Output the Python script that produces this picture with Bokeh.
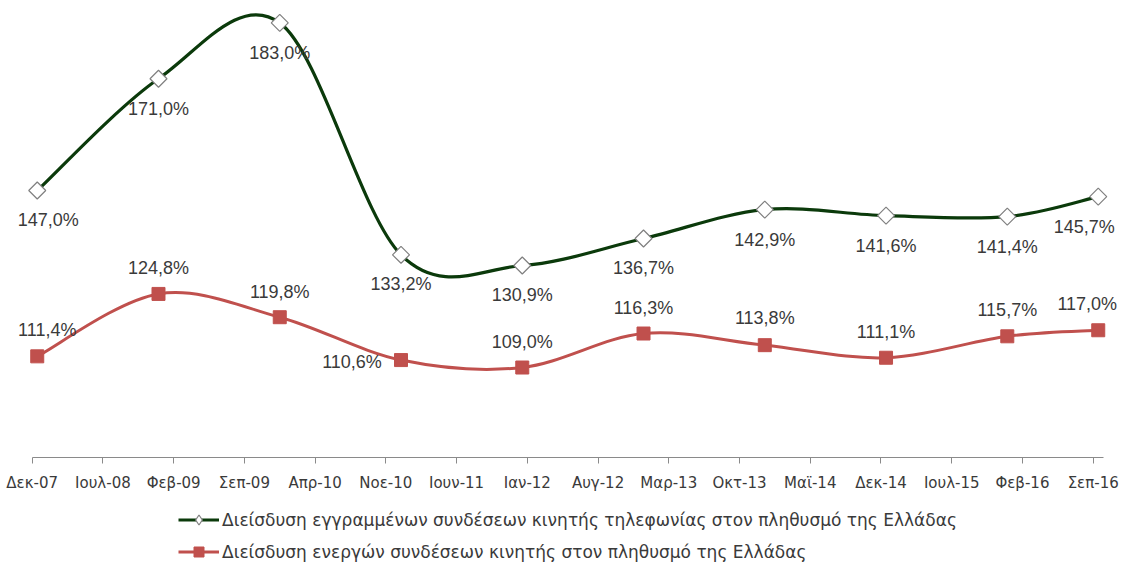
import numpy as np
from bokeh.plotting import figure
from bokeh.layouts import column
from bokeh.models import ColumnDataSource, LabelSet, Legend, LegendItem, FixedTicker, Range1d
from bokeh.embed import file_html
from bokeh.resources import INLINE
from bokeh.core.properties import value

# ---------------- data ----------------
dates = ["2007-12", "2008-12", "2009-12", "2010-12", "2011-12",
         "2012-12", "2013-12", "2014-12", "2015-12", "2016-09"]
registered = [147.0, 171.0, 183.0, 133.2, 130.9, 136.7, 142.9, 141.6, 141.4, 145.7]
active = [111.4, 124.8, 119.8, 110.6, 109.0, 116.3, 113.8, 111.1, 115.7, 117.0]
tick_labels = ["Δεκ-07", "Ιουλ-08", "Φεβ-09", "Σεπ-09", "Απρ-10", "Νοε-10", "Ιουν-11",
               "Ιαν-12", "Αυγ-12", "Μαρ-13", "Οκτ-13", "Μαϊ-14", "Δεκ-14", "Ιουλ-15",
               "Φεβ-16", "Σεπ-16"]
series_names = ["Διείσδυση εγγραμμένων συνδέσεων κινητής τηλεφωνίας στον πληθυσμό της Ελλάδας",
                "Διείσδυση ενεργών συνδέσεων κινητής στον πληθυσμό της Ελλάδας"]

# label placement (screen px offsets), kept apart from the data
reg_dx = [11, 0, 0, 0, 0, 0, 0, 0, 0, -14]
reg_dy = [-29, -30, -30, -29, -29, -29, -30, -30, -30, -30]
act_dx = [10, 0, 0, -49, 0, 0, 0, 0, 0, -11]
act_dy = [26, 26, 25, -2, 26, 26, 27, 26, 26, 26]

GREEN = "#0B3A0B"
RED = "#C0504D"
TXT = "#3A3A3A"

def month_index(s):
    y, m = s.split("-")
    return (int(y) - 2007) * 12 + int(m) - 12

xs = [month_index(d) + 0.5 for d in dates]
tick_pos = [7 * i for i in range(len(tick_labels))]
axis_end = tick_pos[-1] + 1

def smooth_segments(x, y):
    x = np.asarray(x, float)
    y = np.asarray(y, float)
    n = len(x)
    xp = np.concatenate([[x[0]], x, [x[-1]]])
    yp = np.concatenate([[y[0]], y, [y[-1]]])
    cx0 = x[:-1] + (xp[2:n + 1] - xp[0:n - 1]) / 6.0
    cy0 = y[:-1] + (yp[2:n + 1] - yp[0:n - 1]) / 6.0
    cx1 = x[1:] - (xp[3:n + 2] - xp[1:n]) / 6.0
    cy1 = y[1:] - (yp[3:n + 2] - yp[1:n]) / 6.0
    return dict(x0=x[:-1], y0=y[:-1], x1=x[1:], y1=y[1:],
                cx0=cx0, cy0=cy0, cx1=cx1, cy1=cy1)

def fmt(v):
    return f"{v:.1f}%".replace(".", ",")

p = figure(width=1127, height=500, output_backend="svg", toolbar_location=None,
           x_range=Range1d(-2.74, 108.0), y_range=Range1d(89.68, 187.8),
           y_axis_location=None, min_border_left=4, min_border_right=4,
           min_border_top=0, min_border_bottom=43)
p.outline_line_color = None
p.grid.visible = False
p.background_fill_color = "white"

ax = p.xaxis[0]
ax.bounds = (0, axis_end)
ax.ticker = FixedTicker(ticks=tick_pos)
ax.major_label_overrides = {t: l for t, l in zip(tick_pos, tick_labels)}
ax.axis_line_color = "#8A8A8A"
ax.major_tick_line_color = "#8A8A8A"
ax.major_tick_out = 6
ax.major_tick_in = 0
ax.minor_tick_line_color = None
ax.major_label_text_font = "DejaVu Sans"
ax.major_label_text_font_size = "15px"
ax.major_label_text_color = TXT
ax.major_label_standoff = 10

reg_seg = ColumnDataSource(smooth_segments(xs, registered))
act_seg = ColumnDataSource(smooth_segments(xs, active))
p.bezier(x0="x0", y0="y0", x1="x1", y1="y1", cx0="cx0", cy0="cy0", cx1="cx1", cy1="cy1",
         source=act_seg, line_color=RED, line_width=3, line_cap="round")
p.bezier(x0="x0", y0="y0", x1="x1", y1="y1", cx0="cx0", cy0="cy0", cx1="cx1", cy1="cy1",
         source=reg_seg, line_color=GREEN, line_width=3.2, line_cap="round")

reg_src = ColumnDataSource(dict(x=xs, y=registered, t=[fmt(v) for v in registered],
                                dx=reg_dx, dy=reg_dy))
act_src = ColumnDataSource(dict(x=xs, y=active, t=[fmt(v) for v in active],
                                dx=act_dx, dy=act_dy))

p.scatter("x", "y", source=act_src, marker="square", size=13,
          fill_color=RED, line_color=RED, line_width=1)
p.scatter("x", "y", source=reg_src, marker="square", angle=np.pi / 4, size=12,
          fill_color="white", line_color="#7F7F7F", line_width=1.2)

for src in (reg_src, act_src):
    p.add_layout(LabelSet(x="x", y="y", text="t", source=src, x_offset="dx", y_offset="dy",
                          text_align="center", text_baseline="middle",
                          text_font=value("Liberation Sans"), text_font_size="18px",
                          text_color=TXT))

# ---------------- legend strip (same series, drawn out of view; only the legend shows) ----
q = figure(width=1127, height=64, output_backend="svg", toolbar_location=None,
           x_range=Range1d(0, 1), y_range=Range1d(0, 1),
           x_axis_location=None, y_axis_location=None,
           min_border_left=0, min_border_right=0, min_border_top=0, min_border_bottom=0)
q.outline_line_color = None
q.grid.visible = False

lg_line_g = q.line(xs, registered, line_color=GREEN, line_width=3.2)
lg_mk_g = q.scatter(xs, registered, marker="diamond", size=12,
                    fill_color="white", line_color="#7F7F7F", line_width=1.2)
lg_line_r = q.line(xs, active, line_color=RED, line_width=3)
lg_mk_r = q.scatter(xs, active, marker="square", size=13,
                    fill_color=RED, line_color=RED, line_width=1)

legend = Legend(items=[LegendItem(label=series_names[0], renderers=[lg_line_g, lg_mk_g]),
                       LegendItem(label=series_names[1], renderers=[lg_line_r, lg_mk_r])],
                location=(174, 0), orientation="vertical",
                glyph_width=41, glyph_height=25, label_height=25, label_standoff=3,
                spacing=7, padding=0, margin=0, border_line_color=None,
                background_fill_alpha=0,
                label_text_font="DejaVu Sans", label_text_font_size="17px",
                label_text_color=TXT)
q.add_layout(legend, "center")

layout = column(p, q, spacing=0)
open("out.html", "w").write(file_html(layout, INLINE))
